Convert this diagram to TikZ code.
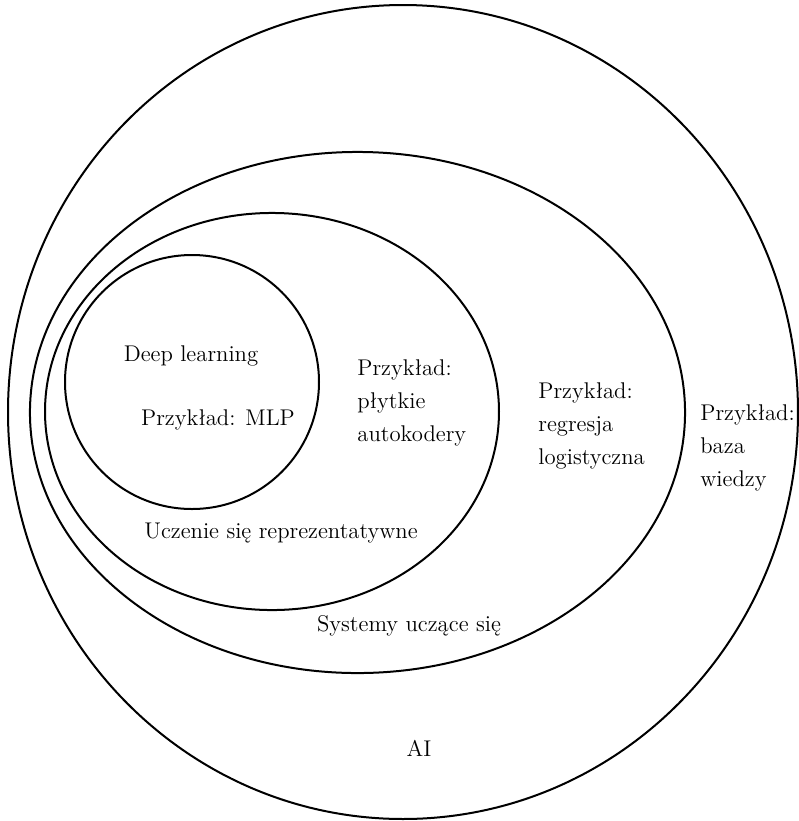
\documentclass[tikz,border=0pt]{standalone}
\usepackage{tikz}
\usetikzlibrary{shapes.geometric,positioning}

\begin{document}
\begin{tikzpicture}[x=0.55pt, y=-0.55pt, every node/.style={font=\fontsize{12.5}{18}\selectfont}]
		\tikzstyle{set}=[ellipse, draw=black, line width=1.1pt, inner sep=0pt]
		\tikzstyle{lbl}=[inner sep=0pt]
		\tikzstyle{ex}=[inner sep=0pt, align=left, anchor=west]
		\useasboundingbox (0,0) rectangle (799,821);
		% zbiory
		\node[set, minimum width=434.5pt, minimum height=447.7pt] (ai) at (403,412) {};
		\node[set, minimum width=360.3pt, minimum height=286.6pt] (ml) at (357.5,412.5) {};
		\node[set, minimum width=249.7pt, minimum height=218.4pt] (rl) at (272,411.5) {};
		\node[set, minimum width=139.7pt, minimum height=139.7pt] (dl) at (192,382) {};
		% opisy
		\node[lbl] (dl_name) at (191,356) {Deep learning};
		\node[lbl] (dl_ex) at (218,420) {Przykład: MLP};
		\node[lbl] (rl_name) at (281,533) {Uczenie się reprezentatywne};
		\node[ex] (rl_ex) at (357,403) {Przykład:\\płytkie\\autokodery};
		\node[ex] (ml_ex) at (538,426) {Przykład:\\regresja\\logistyczna};
		\node[ex] (ai_ex) at (700,448) {Przykład:\\baza\\wiedzy};
		\node[lbl] (ml_name) at (409,626) {Systemy uczące się};
		\node[lbl] (ai_name) at (419,748) {AI};
	\end{tikzpicture}
\end{document}
